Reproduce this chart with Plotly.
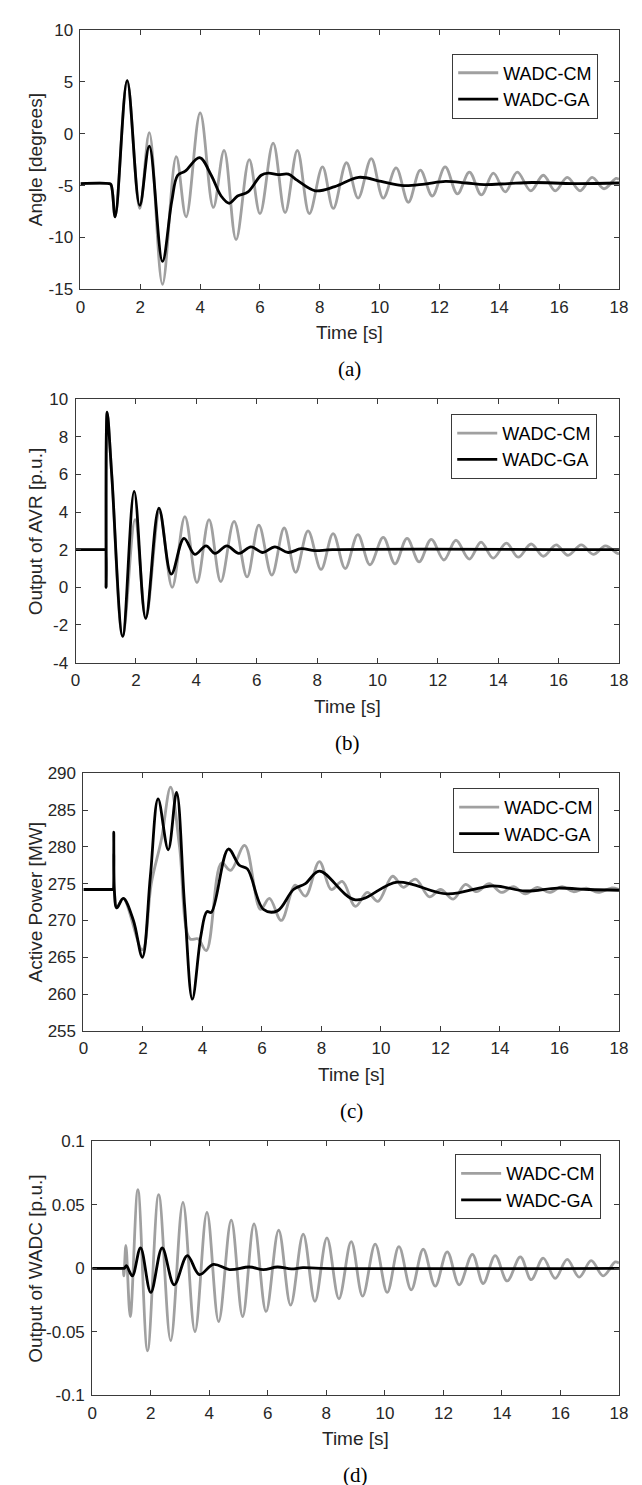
import plotly.graph_objects as go

W, H = 642, 1485

# ---------------- data ----------------
x_tickvals = [0, 2, 4, 6, 8, 10, 12, 14, 16, 18]
x_ticktext = ["0", "2", "4", "6", "8", "10", "12", "14", "16", "18"]
series_names = ["WADC-CM", "WADC-GA"]

# (a) Angle [degrees]
a_cm_t = [0, 0.95, 1.02, 1.16, 1.56, 1.98, 2.30, 2.74, 3.20, 3.53, 4.00, 4.44, 4.80, 5.20, 5.64,
          6.00, 6.44, 6.84, 7.25, 7.65, 8.09, 8.45, 8.89, 9.28, 9.72, 10.12, 10.55, 10.96, 11.36,
          11.76, 12.19, 12.60, 13.00, 13.40, 13.80, 14.20, 14.60, 15.05, 15.47, 15.87, 16.27,
          16.70, 17.10, 17.50, 17.90, 18.0]
a_cm_v = [-4.8, -4.8, -4.9, -8.0, 5.1, -7.2, 0.1, -14.5, -2.2, -8.0, 2.0, -7.1, -1.6, -10.2, -2.5,
          -7.7, -0.9, -7.6, -1.6, -7.7, -3.2, -7.2, -2.8, -6.2, -2.4, -6.2, -3.3, -6.6, -3.5,
          -6.0, -3.2, -5.8, -3.7, -5.9, -3.8, -5.6, -3.7, -5.5, -4.0, -5.5, -4.2,
          -5.5, -4.2, -5.3, -4.3, -4.4]
a_ga_t = [0, 0.95, 1.02, 1.16, 1.56, 1.98, 2.30, 2.74, 3.05, 3.25, 3.50, 3.98, 4.37, 4.70, 4.97,
          5.25, 5.60, 6.04, 6.28, 6.60, 6.95, 7.25, 7.85, 8.50, 9.30, 10.05, 10.80, 11.50, 12.20,
          12.90, 13.50, 14.30, 15.10, 16.50, 18.0]
a_ga_v = [-4.8, -4.8, -4.9, -8.0, 5.1, -6.9, -1.2, -12.3, -6.5, -4.0, -3.6, -2.3, -4.0, -6.0, -6.7,
          -6.0, -5.6, -4.0, -3.8, -3.95, -3.9, -4.5, -5.5, -5.1, -4.2, -4.6, -5.0, -4.85, -4.6,
          -4.75, -4.9, -4.8, -4.7, -4.8, -4.75]
a_yticks = [-15, -10, -5, 0, 5, 10]
a_ytext = ["-15", "-10", "-5", "0", "5", "10"]

# (b) Output of AVR [p.u.]
b_cm_t = [0, 0.99, 1.0, 1.01, 1.045, 1.20, 1.56, 1.97, 2.33, 2.78, 3.20, 3.62, 4.02, 4.42, 4.81, 5.25,
          5.68, 6.07, 6.50, 6.91, 7.29, 7.70, 8.13, 8.53, 8.93, 9.35, 9.75, 10.19, 10.58, 10.98,
          11.38, 11.78, 12.20, 12.60, 13.04, 13.43, 13.83, 14.27, 14.66, 15.09, 15.49, 15.92,
          16.31, 16.75, 17.15, 17.55, 17.95, 18.0]
b_cm_v = [2.0, 2.0, 2.0, 0.0, 9.3, 5.9, -2.6, 3.6, -1.6, 4.0, 0.0, 3.75, 0.25, 3.6, 0.3, 3.5,
          0.55, 3.3, 0.65, 3.15, 0.8, 3.0, 0.95, 2.85, 1.0, 2.8, 1.2, 2.65, 1.25, 2.6,
          1.35, 2.55, 1.45, 2.5, 1.5, 2.4, 1.55, 2.35, 1.6, 2.3, 1.65, 2.25,
          1.7, 2.25, 1.75, 2.2, 1.8, 1.8]
b_ga_t = [0, 0.99, 1.0, 1.01, 1.045, 1.20, 1.56, 1.94, 2.32, 2.76, 3.17, 3.59, 3.95, 4.32, 4.62, 5.01,
          5.41, 5.81, 6.20, 6.60, 7.04, 7.47, 7.93, 8.50, 18.0]
b_ga_v = [2.0, 2.0, 2.0, 0.0, 9.3, 5.9, -2.6, 5.1, -1.65, 4.2, 0.7, 2.6, 1.75, 2.2, 1.8, 2.2,
          1.8, 2.15, 1.85, 2.15, 1.85, 2.05, 1.95, 2.0, 2.0]
b_yticks = [-4, -2, 0, 2, 4, 6, 8, 10]
b_ytext = ["-4", "-2", "0", "2", "4", "6", "8", "10"]

# (c) Active Power [MW]
c_cm_t = [0, 0.99, 1.0, 1.02, 1.04, 1.12, 1.34, 1.98, 2.28, 2.62, 2.93, 3.23, 3.58, 3.85, 4.13, 4.64,
          4.95, 5.42, 5.95, 6.25, 6.65, 7.12, 7.46, 7.93, 8.33, 8.70, 9.14, 9.54, 9.90, 10.39,
          10.75, 11.16, 11.63, 12.00, 12.43, 12.84, 13.21, 13.64, 14.05, 14.45, 14.85, 15.26,
          15.66, 16.09, 16.47, 16.90, 17.30, 17.74, 18.0]
c_cm_v = [274.2, 274.2, 274.2, 279.0, 274.0, 271.7, 273.0, 266.0, 275.0, 281.0, 288.1, 280.0, 267.5, 267.5, 265.9, 277.8,
          276.8, 280.2, 271.5, 273.0, 270.0, 274.8, 273.3, 278.0, 274.2, 275.3, 271.9, 273.8, 272.6, 276.0,
          274.5, 275.6, 273.2, 274.2, 272.9, 274.9, 273.9, 275.0, 273.8, 274.6, 273.6, 274.5,
          273.8, 274.6, 273.9, 274.4, 273.8, 274.4, 274.2]
c_ga_t = [0, 0.99, 1.0, 1.02, 1.04, 1.12, 1.34, 1.68, 1.98, 2.25, 2.51, 2.85, 3.13, 3.40, 3.66, 3.95,
          4.15, 4.30, 4.87, 5.24, 5.51, 6.05, 6.52, 7.06, 7.46, 7.93, 9.14, 10.55, 12.23, 13.78,
          14.85, 15.93, 17.00, 18.0]
c_ga_v = [274.2, 274.2, 274.2, 282.0, 274.0, 271.7, 273.0, 270.0, 265.0, 276.0, 286.5, 279.6, 287.4, 272.0, 259.3, 268.0,
          271.2, 271.1, 279.7, 277.5, 277.0, 271.5, 271.3, 274.2, 275.0, 276.7, 272.8, 275.2, 273.6, 274.7,
          274.0, 274.4, 274.2, 274.1]
c_yticks = [255, 260, 265, 270, 275, 280, 285, 290]
c_ytext = ["255", "260", "265", "270", "275", "280", "285", "290"]

# (d) Output of WADC [p.u.]
d_cm_t = [0, 1.03, 1.05, 1.08, 1.15, 1.30, 1.56, 1.89, 2.27, 2.68, 3.10, 3.51, 3.92, 4.32, 4.75, 5.14,
          5.53, 5.94, 6.37, 6.78, 7.21, 7.61, 8.02, 8.43, 8.85, 9.24, 9.67, 10.08, 10.48, 10.90,
          11.31, 11.72, 12.13, 12.54, 12.99, 13.36, 13.77, 14.18, 14.63, 15.00, 15.41, 15.82,
          16.23, 16.64, 17.05, 17.46, 17.87, 18.0]
d_cm_v = [0.0, 0.0, 0.0, -0.006, 0.018, -0.038, 0.062, -0.065, 0.058, -0.057, 0.052, -0.050, 0.044, -0.042, 0.038, -0.038,
          0.035, -0.034, 0.030, -0.029, 0.027, -0.026, 0.024, -0.024, 0.021, -0.022, 0.019, -0.019, 0.017, -0.017,
          0.015, -0.014, 0.013, -0.013, 0.011, -0.012, 0.010, -0.010, 0.009, -0.009, 0.008, -0.008,
          0.007, -0.007, 0.006, -0.006, 0.005, 0.004]
d_ga_t = [0, 1.08, 1.10, 1.17, 1.37, 1.65, 2.00, 2.39, 2.80, 3.25, 3.66, 4.14, 4.69, 5.37, 5.85, 6.33,
          6.80, 7.20, 7.80, 18.0]
d_ga_v = [0.0, 0.0, 0.0, 0.002, -0.006, 0.016, -0.019, 0.016, -0.013, 0.010, -0.005, 0.003, -0.001, 0.001, -0.001, 0.001,
          -0.0005, 0.0005, 0.0, 0.0]
d_yticks = [-0.1, -0.05, 0, 0.05, 0.1]
d_ytext = ["-0.1", "-0.05", "0", "0.05", "0.1"]

y_titles = ["Angle [degrees]", "Output of AVR [p.u.]", "Active Power [MW]", "Output of WADC [p.u.]"]
captions = ["(a)", "(b)", "(c)", "(d)"]
x_title = "Time [s]"

# ---------------- layout (pixel boxes) ----------------
boxes = [  # left, right, top, bottom in px
    (69, 619.5, 13, 276),
    (64, 619.5, 387, 654),
    (72, 619.5, 766, 1027),
    (81, 619.5, 1139, 1396),
]
legend_pos = [(449, 37), (448, 402), (450, 781), (452, 1152)]

panels = [
    (a_cm_t, a_cm_v, a_ga_t, a_ga_v, a_yticks, a_ytext),
    (b_cm_t, b_cm_v, b_ga_t, b_ga_v, b_yticks, b_ytext),
    (c_cm_t, c_cm_v, c_ga_t, c_ga_v, c_yticks, c_ytext),
    (d_cm_t, d_cm_v, d_ga_t, d_ga_v, d_yticks, d_ytext),
]

FONT = "Liberation Sans, Arial, Helvetica, sans-serif"
SERIF = "Liberation Serif, Times New Roman, serif"
AX = "#3a3a3a"
TXT = "#262626"
GRAY = "#a0a0a0"

fig = go.Figure()
layout = dict(
    width=W, height=H,
    margin=dict(l=0, r=0, t=0, b=0),
    paper_bgcolor="white", plot_bgcolor="white",
    showlegend=True,
    annotations=[],
)

def px_x(x):
    return x / W

def px_y(y):
    return 1 - y / H

for i, (cm_t, cm_v, ga_t, ga_v, ytv, ytt) in enumerate(panels):
    n = "" if i == 0 else str(i + 1)
    leg = "legend" if i == 0 else "legend%d" % (i + 1)
    l, r, t, b = boxes[i]
    fig.add_trace(go.Scatter(x=cm_t, y=cm_v, mode="lines", name=series_names[0],
                             line=dict(color=GRAY, width=2.8, shape="spline", smoothing=1.0),
                             xaxis="x" + n, yaxis="y" + n, legend=leg))
    fig.add_trace(go.Scatter(x=ga_t, y=ga_v, mode="lines", name=series_names[1],
                             line=dict(color="black", width=2.8, shape="spline", smoothing=1.0),
                             xaxis="x" + n, yaxis="y" + n, legend=leg))
    common = dict(showline=True, linecolor=AX, linewidth=1, mirror="ticks",
                  ticks="inside", ticklen=5, tickwidth=1, tickcolor=AX,
                  showgrid=False, zeroline=False,
                  tickfont=dict(family=FONT, size=17, color=TXT))
    layout["xaxis" + n] = dict(domain=[px_x(l), px_x(r)], anchor="y" + n, range=[0, 18],
                               tickmode="array", tickvals=x_tickvals, ticktext=x_ticktext,
                               ticklabelstandoff=2, **common)
    layout["yaxis" + n] = dict(domain=[px_y(b), px_y(t)], anchor="x" + n,
                               range=[ytv[0], ytv[-1]],
                               tickmode="array", tickvals=ytv, ticktext=ytt,
                               ticklabelstandoff=3, **common)
    lx, ly = legend_pos[i]
    layout[leg] = dict(x=px_x(lx), y=px_y(ly), xanchor="left", yanchor="top",
                       bgcolor="white", bordercolor=AX, borderwidth=1,
                       font=dict(family=FONT, size=18, color="black"),
                       tracegroupgap=0, itemwidth=40)
    cx = (l + r) / 2
    layout["annotations"] += [
        dict(text=x_title, x=px_x(cx), y=px_y(b + 44), xref="paper", yref="paper",
             xanchor="center", yanchor="middle", showarrow=False,
             font=dict(family=FONT, size=19, color=TXT)),
        dict(text=y_titles[i], x=px_x(23), y=px_y((t + b) / 2), xref="paper", yref="paper",
             xanchor="center", yanchor="middle", showarrow=False, textangle=-90,
             font=dict(family=FONT, size=19, color=TXT)),
        dict(text=captions[i], x=px_x(cx), y=px_y(b + 81), xref="paper", yref="paper",
             xanchor="center", yanchor="middle", showarrow=False,
             font=dict(family=SERIF, size=21, color="black")),
    ]

fig.update_layout(**layout)
fig.write_html("out.html")
